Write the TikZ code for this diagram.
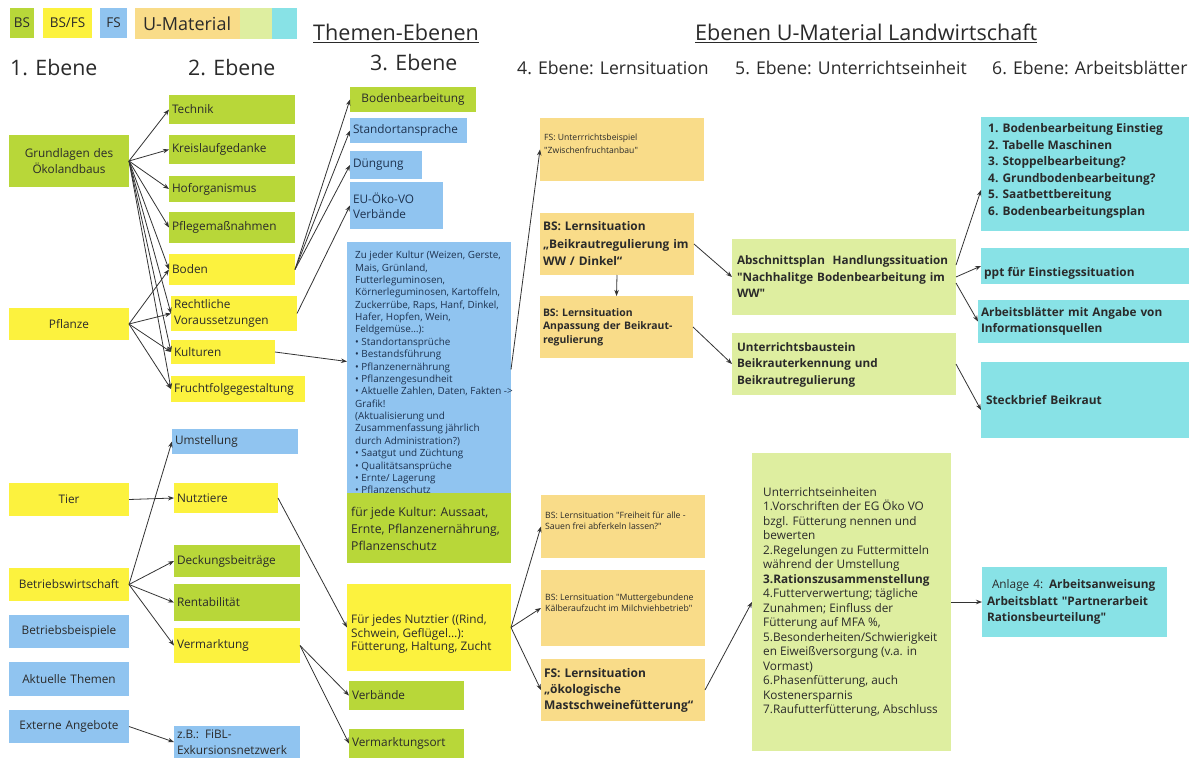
\documentclass[tikz,border=0pt]{standalone}
\usepackage{fontspec}
\setmainfont{Open Sans}[Ligatures=TeXOff]
\usetikzlibrary{arrows.meta,calc}
\definecolor{gB}{HTML}{B8D739}
\definecolor{yB}{HTML}{FCF23E}
\definecolor{bB}{HTML}{90C4F0}
\definecolor{oB}{HTML}{F9DC89}
\definecolor{lB}{HTML}{DEEEA0}
\definecolor{cB}{HTML}{88E2E6}
\definecolor{ink}{HTML}{2A2A2A}
\definecolor{navy}{HTML}{1E3350}
\definecolor{arr}{HTML}{333333}
\newcommand\fs[2]{\fontsize{#1}{#2}\selectfont}
\begin{document}
\begin{tikzpicture}[x=1pt,y=-1pt,
 box/.style={fill=#1, anchor=north west, inner xsep=3pt, inner ysep=0pt, outer sep=0pt, align=left, text=ink, font=\fs{11.8}{16.5}},
 cbox/.style={box=#1, align=center},
 tx/.style={anchor=west, inner sep=0pt, align=left, text=ink},
 ar/.style={draw=arr, line width=0.8pt, -{Stealth[length=6pt,width=4.5pt]}},
 hd/.style={anchor=west, inner sep=0pt, text=ink}]
\useasboundingbox[fill=white] (0,0) rectangle (1200,758);

% legend
\node[cbox=gB, text width=18pt, minimum height=30pt, font=\fs{13.5}{15}] (lgBS) at (10,8) {BS};
\node[cbox=yB, text width=43pt, minimum height=30pt, font=\fs{13.5}{15}] (lgBSFS) at (43,8) {BS/FS};
\node[cbox=bB, text width=21pt, minimum height=30pt, font=\fs{13.5}{15}] (lgFS) at (100,8) {FS};
\node[box=oB, inner xsep=8pt, text width=89pt, minimum height=31pt, font=\fs{18}{20}] (lgU) at (135,8) {U-Material};
\node[box=lB, minimum width=32pt, minimum height=31pt] (lgL) at (240,8) {};
\node[box=cB, minimum width=25pt, minimum height=31pt] (lgC) at (272,8) {};

% headings
\node[hd, font=\fs{21.6}{24}] (themen) at (313,33) {\underline{Themen-Ebenen}};
\node[hd, font=\fs{21.6}{24}] (umat) at (695,33) {\underline{Ebenen U-Material Landwirtschaft}};
\node[hd, font=\fs{21.3}{24}] (h1) at (10,68) {1. Ebene};
\node[hd, font=\fs{21.3}{24}] (h2) at (188,68) {2. Ebene};
\node[hd, font=\fs{21.3}{24}] (h3) at (370,63) {3. Ebene};
\node[hd, font=\fs{17.6}{20}] (h4) at (517,68) {4. Ebene: Lernsituation};
\node[hd, font=\fs{17.6}{20}] (h5) at (735,68) {5. Ebene: Unterrichtseinheit};
\node[hd, font=\fs{17.6}{20}] (h6) at (992,68) {6. Ebene: Arbeitsblätter};

% column 1
\node[cbox=gB, text width=114pt, minimum height=52pt] (grund) at (9,135) {Grundlagen des\\Ökolandbaus};
\node[cbox=yB, text width=114pt, minimum height=32pt] (pflanze) at (9,308) {Pflanze};
\node[cbox=yB, text width=114pt, minimum height=33pt] (tier) at (9,483) {Tier};
\node[cbox=yB, text width=114pt, minimum height=33pt] (betrieb) at (9,568) {Betriebswirtschaft};
\node[cbox=bB, text width=114pt, minimum height=33pt] (beisp) at (9,615) {Betriebsbeispiele};
\node[cbox=bB, text width=114pt, minimum height=34pt] (aktuell) at (9,662) {Aktuelle Themen};
\node[cbox=bB, text width=114pt, minimum height=33pt] (extern) at (9,710) {Externe Angebote};

% column 2
\node[box=gB, text width=120pt, minimum height=29pt] (technik) at (169,95) {Technik};
\node[box=gB, text width=120pt, minimum height=29pt] (kreis) at (169,135) {Kreislaufgedanke};
\node[box=gB, text width=120pt, minimum height=26pt] (hof) at (169,176) {Hoforganismus};
\node[box=gB, text width=120pt, minimum height=31pt] (pflege) at (169,212) {Pflegemaßnahmen};
\node[box=yB, text width=120pt, minimum height=31pt] (boden) at (169,254) {Boden};
\node[box=yB, text width=120pt, minimum height=35pt] (recht) at (171,296) {Rechtliche\\Voraussetzungen};
\node[box=yB, text width=98pt, minimum height=24pt] (kult) at (171,340) {Kulturen};
\node[box=yB, text width=128pt, minimum height=26pt] (frucht) at (171,376) {Fruchtfolgegestaltung};
\node[box=bB, text width=120pt, minimum height=25pt] (umst) at (172,429) {Umstellung};
\node[box=yB, text width=98pt, minimum height=30pt] (nutz) at (174,483) {Nutztiere};
\node[box=gB, text width=120pt, minimum height=32pt] (deck) at (174,545) {Deckungsbeiträge};
\node[box=gB, text width=120pt, minimum height=37pt] (rent) at (174,584) {Rentabilität};
\node[box=yB, text width=120pt, minimum height=35pt] (verm) at (174,628) {Vermarktung};
\node[box=bB, text width=120pt, minimum height=32pt] (fibl) at (174,726) {z.B.: FiBL-\\Exkursionsnetzwerk};

% column 3
\node[cbox=gB, text width=120pt, minimum height=25pt] (bbear) at (350,87) {Bodenbearbeitung};
\node[box=bB, text width=111pt, minimum height=25pt, text=navy] (stand) at (350,118) {Standortansprache};
\node[box=bB, text width=66pt, minimum height=28pt, text=navy] (dueng) at (350,151) {Düngung};
\node[box=bB, text width=87pt, minimum height=47pt, text=navy, font=\fs{11.8}{15}] (euoeko) at (350,182) {EU-Öko-VO\\Verbände};
\node[box=bB, minimum width=164pt, minimum height=255pt] (bigblue) at (347,242) {};
\node[tx, anchor=north west, text=navy, font=\fs{9.9}{12.37}] (bluetxt) at (355,251) {Zu jeder Kultur (Weizen, Gerste,\\Mais, Grünland,\\Futterleguminosen,\\Körnerleguminosen, Kartoffeln,\\Zuckerrübe, Raps, Hanf, Dinkel,\\Hafer, Hopfen, Wein,\\Feldgemüse…):\\• Standortansprüche\\• Bestandsführung\\• Pflanzenernährung\\• Pflanzengesundheit\\• Aktuelle Zahlen, Daten, Fakten ->\\Grafik!\\(Aktualisierung und\\Zusammenfassung jährlich\\durch Administration?)\\• Saatgut und Züchtung\\• Qualitätsansprüche\\• Ernte/ Lagerung\\• Pflanzenschutz};
\node[box=gB, minimum width=164pt, minimum height=70pt] (kultur3) at (347,493) {};
\node[tx, font=\fs{12.2}{17}] (kultur3txt) at (351,529) {für jede Kultur: Aussaat,\\Ernte, Pflanzenernährung,\\Pflanzenschutz};
\node[box=yB, minimum width=164pt, minimum height=87pt] (tier3) at (347,584) {};
\node[tx, font=\fs{11.8}{13.5}] (tier3txt) at (351,634) {Für jedes Nutztier ((Rind,\\Schwein, Geflügel…):\\Fütterung, Haltung, Zucht};
\node[box=gB, text width=109pt, minimum height=29pt] (verb) at (349,681) {Verbände};
\node[box=gB, text width=109pt, minimum height=29pt] (vort) at (349,729) {Vermarktungsort};

% column 4
\node[box=oB, minimum width=164pt, minimum height=63pt] (fsub) at (540,118) {};
\node[tx, font=\fs{8.6}{13}] (fsubtxt) at (544,143.5) {FS: Unterrrichtsbeispiel\\"Zwischenfruchtanbau"};
\node[box=oB, text width=148pt, minimum height=62pt, font=\bfseries\fs{11.9}{17.5}] (beik) at (540,213) {BS: Lernsituation\\„Beikrautregulierung im\\WW / Dinkel“};
\node[box=oB, text width=147pt, minimum height=62pt, font=\bfseries\fs{10.4}{13.5}] (anp) at (540,296) {BS: Lernsituation\\Anpassung der Beikraut-\\regulierung};
\node[box=oB, minimum width=164pt, minimum height=63pt] (frei) at (541,495) {};
\node[tx, font=\fs{8.7}{11.5}] (freitxt) at (545,520.5) {BS: Lernsituation "Freiheit für alle -\\Sauen frei abferkeln lassen?"};
\node[box=oB, minimum width=164pt, minimum height=76pt] (mutter) at (541,570) {};
\node[tx, font=\fs{8.7}{11.5}] (muttertxt) at (545,602.5) {BS: Lernsituation "Muttergebundene\\Kälberaufzucht im Milchviehbetrieb"};
\node[box=oB, text width=158pt, minimum height=62pt, font=\bfseries\fs{12}{16}] (oeko) at (541,659) {FS: Lernsituation\\„ökologische\\Mastschweinefütterung“};

% column 5
\node[box=lB, inner xsep=5pt, text width=214pt, minimum height=76pt, font=\bfseries\fs{11.7}{16.5}] (absch) at (732,239) {Abschnittsplan \ Handlungssituation\\"Nachhalitge Bodenbearbeitung im\\WW"};
\node[box=lB, inner xsep=5pt, text width=214pt, minimum height=62pt, font=\bfseries\fs{11.7}{16.5}] (baust) at (732,333) {\\[-6pt]Unterrichtsbaustein\\Beikrauterkennung und\\Beikrautregulierung};
\node[box=lB, minimum width=199pt, minimum height=298pt] (ue) at (752,453) {};
\node[tx, font=\fs{11.8}{14.5}] (uetxt) at (763,602) {Unterrichtseinheiten\\1.Vorschriften der EG Öko VO\\bzgl. Fütterung nennen und\\bewerten\\2.Regelungen zu Futtermitteln\\während der Umstellung\\\textbf{3.Rationszusammenstellung}\\4.Futterverwertung; tägliche\\Zunahmen; Einfluss der\\Fütterung auf MFA \%,\\5.Besonderheiten/Schwierigkeit\\en Eiweißversorgung (v.a. in\\Vormast)\\6.Phasenfütterung, auch\\Kostenersparnis\\7.Raufutterfütterung, Abschluss};

% column 6
\node[box=cB, minimum width=208pt, minimum height=114pt] (b16) at (981,117) {};
\node[tx, font=\bfseries\fs{11.9}{16.5}] (b16txt) at (988,171) {1. Bodenbearbeitung Einstieg\\2. Tabelle Maschinen\\3. Stoppelbearbeitung?\\4. Grundbodenbearbeitung?\\5. Saatbettbereitung\\6. Bodenbearbeitungsplan};
\node[box=cB, minimum width=208pt, minimum height=36pt] (ppt) at (981,248) {};
\node[tx, font=\bfseries\fs{11.9}{16.5}] (ppttxt) at (984,273) {ppt für Einstiegssituation};
\node[box=cB, text width=205pt, minimum height=43pt, font=\bfseries\fs{11.8}{16}] (arbbl) at (978,300) {Arbeitsblätter mit Angabe von\\Informationsquellen};
\node[box=cB, inner xsep=5pt, text width=198pt, minimum height=76pt, font=\bfseries\fs{11.9}{16.5}] (steck) at (981,362) {Steckbrief Beikraut};
\node[box=cB, inner xsep=5pt, text width=175pt, minimum height=70pt, font=\fs{11.8}{16.5}] (anlage) at (982,567) {\hspace*{5pt}Anlage 4: \textbf{Arbeitsanweisung}\\\textbf{Arbeitsblatt "Partnerarbeit}\\\textbf{Rationsbeurteilung"}};

% connectors
\foreach \t in {technik,kreis,hof,pflege,boden,recht,kult,frucht}
  \draw[ar] (grund.east) -- (\t.west);
\foreach \t in {boden,recht,kult,frucht}
  \draw[ar] (pflanze.east) -- (\t.west);
\foreach \t in {bbear,stand,dueng}
  \draw[ar] (boden.east) -- (\t.west);
\draw[ar] (recht.east) -- (euoeko.west);
\draw[ar] (kult.east) -- ([yshift=8pt]bigblue.west);
\draw[ar] (bigblue.east) -- (fsub.west);
\draw[ar] (tier.east) -- (nutz.west);
\foreach \t in {umst,deck,rent,verm}
  \draw[ar] (betrieb.east) -- (\t.west);
\draw[ar] (extern.east) -- (fibl.west);
\draw[ar] (nutz.east) -- (tier3.west);
\draw[ar] (verm.east) -- (verb.west);
\draw[ar] (verm.east) -- (vort.west);
\foreach \t in {frei,mutter,oeko}
  \draw[ar] (tier3.east) -- (\t.west);
\draw[ar] (oeko.east) -- (ue.west);
\draw[ar] (ue.east) -- (anlage.west);
\draw[ar] (beik.south) -- (anp.north);
\draw[ar] (beik.east) -- (absch.west);
\draw[ar] (anp.east) -- (baust.west);
\draw[ar] ([yshift=12pt]absch.east) -- ([yshift=-16pt]b16.west);
\draw[ar] (absch.east) -- (ppt.west);
\draw[ar] ([yshift=-6pt]absch.east) -- (arbbl.west);
\draw[ar] (baust.east) -- ([yshift=-10pt]steck.west);
\end{tikzpicture}
\end{document}
